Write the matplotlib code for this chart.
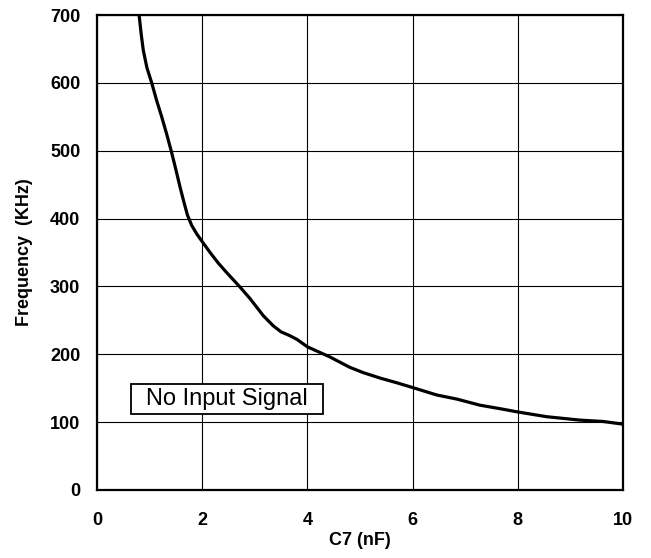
"""
frequency vs C7 capacitance, no input signal
"""
import numpy as np
import matplotlib
matplotlib.use('Agg')
import matplotlib.pyplot as plt
from matplotlib.patches import Rectangle

c7_nf = [0.80, 0.84, 0.88, 0.95, 1.04, 1.13, 1.23, 1.33, 1.42, 1.50, 1.58,
         1.65, 1.72, 1.80, 1.90, 2.00, 2.15, 2.31, 2.47, 2.72, 2.91, 3.16,
         3.35, 3.50, 3.65, 3.80, 4.00, 4.43, 4.80, 5.06, 5.38, 5.70, 6.00,
         6.25, 6.46, 6.84, 7.28, 7.65, 8.00, 8.55, 9.18, 9.62, 10.0]
freq_khz = [700, 672, 648, 622, 600, 575, 550, 523, 497, 472, 446,
            425, 405, 390, 377, 366, 350, 334, 320, 299, 282, 257,
            242, 233, 228, 222, 211, 196, 181, 173, 165, 158, 151,
            145, 140, 134, 125, 120, 115, 108, 103, 101, 97]

x_ticks = [0, 2, 4, 6, 8, 10]
y_ticks = [0, 100, 200, 300, 400, 500, 600, 700]

plt.rcParams['font.family'] = ['Liberation Sans', 'DejaVu Sans']

fig = plt.figure(figsize=(6.51, 5.58), dpi=100)
ax = fig.add_axes([97/651, 68/558, 526/651, 475/558])

ax.plot(c7_nf, freq_khz, color='black', linewidth=2.3,
        solid_joinstyle='round', zorder=3)

ax.set_xlim(0, 10)
ax.set_ylim(0, 700)
ax.set_xticks(x_ticks)
ax.set_yticks(y_ticks)
ax.grid(True, color='black', linewidth=0.8)
ax.set_axisbelow(True)
ax.tick_params(length=0, labelsize=13)
ax.tick_params(axis='y', pad=12)
ax.tick_params(axis='x', pad=16)
for lbl in ax.get_xticklabels() + ax.get_yticklabels():
    lbl.set_fontweight('bold')
for s in ax.spines.values():
    s.set_linewidth(1.6)

ax.set_xlabel('C7 (nF)', fontsize=13, fontweight='bold', labelpad=2)
ax.set_ylabel('Frequency  (KHz)', fontsize=13, fontweight='bold', labelpad=12)

# label box
ax.add_patch(Rectangle((0.65, 112), 3.65, 44, facecolor='white',
                       edgecolor='black', linewidth=1.3, zorder=4))
ax.text(2.47, 134, 'No Input Signal', fontsize=17, ha='center', va='center',
        zorder=5)

fig.savefig('out.png', dpi=100)
